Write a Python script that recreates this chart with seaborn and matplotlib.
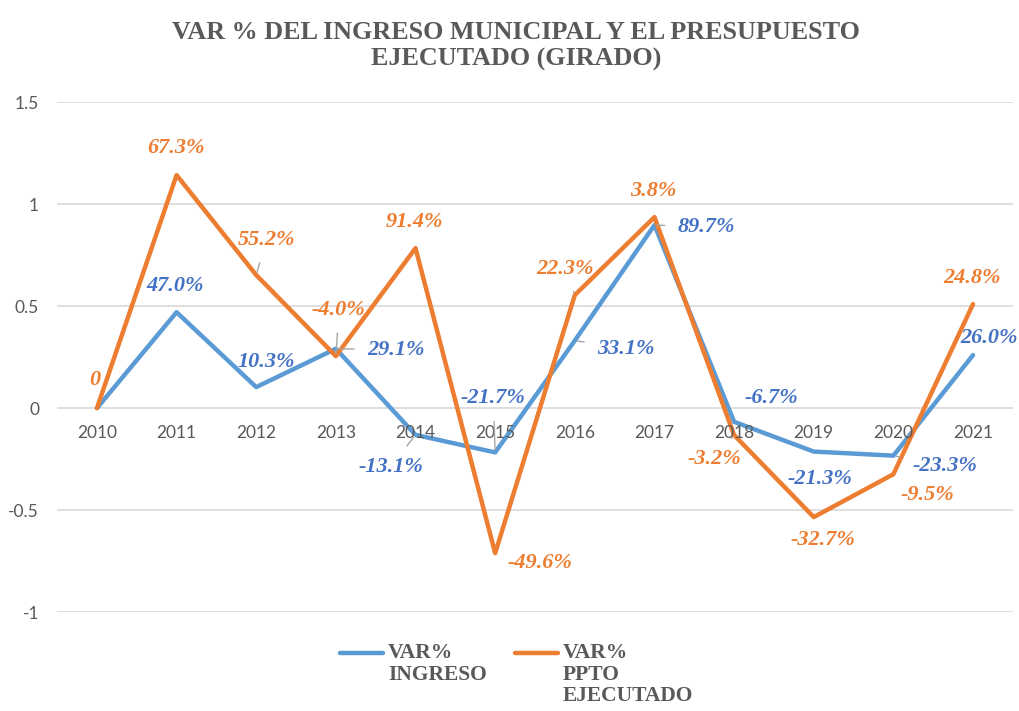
"""Line chart: VAR % del ingreso municipal y el presupuesto ejecutado."""

import matplotlib
matplotlib.use("Agg")
import matplotlib.pyplot as plt
import pandas as pd
import seaborn as sns
from matplotlib.lines import Line2D

# --- data -----------------------------------------------------------------
years = ["2010", "2011", "2012", "2013", "2014", "2015",
         "2016", "2017", "2018", "2019", "2020", "2021"]
var_ingreso = [0.0, 0.47, 0.103, 0.291, -0.131, -0.217,
               0.331, 0.897, -0.067, -0.213, -0.233, 0.26]
var_ppto = [0.0, 1.142, 0.652, 0.255, 0.784, -0.711,
            0.554, 0.936, -0.132, -0.534, -0.324, 0.51]
labels_ingreso = [None, "47.0%", "10.3%", "29.1%", "-13.1%", "-21.7%",
                  "33.1%", "89.7%", "-6.7%", "-21.3%", "-23.3%", "26.0%"]
labels_ppto = ["0", "67.3%", "55.2%", "-4.0%", "91.4%", "-49.6%",
               "22.3%", "3.8%", "-3.2%", "-32.7%", "-9.5%", "24.8%"]
series_names = ["VAR%\nINGRESO", "VAR%\nPPTO\nEJECUTADO"]
title = "VAR % DEL INGRESO MUNICIPAL Y EL PRESUPUESTO\nEJECUTADO (GIRADO)"

# label placement (pixel offsets from point) and whether a leader line is drawn
off_ingreso = [None, (-1, 26), (10, 25), (60, -1), (-25, -32), (-2, 54),
               (51, -8), (52, -2), (37, 24), (6, -27), (52, -10), (16, 17)]
lead_ingreso = [False, False, True, True, True, True,
                True, True, False, False, True, False]
off_ppto = [(-2, 28), (-1, 27), (10, 35), (3, 46), (-1, 26), (45, -10),
            (-10, 26), (-1, 26), (-20, -24), (9, -23), (34, -21), (-1, 26)]
lead_ppto = [False, False, True, True, False, False,
             True, False, True, False, False, False]

BLUE = "#5B9BD5"
BLUE_TXT = "#4472C4"
ORANGE = "#ED7D31"
GREY = "#595959"

df = pd.DataFrame({
    "year": years * 2,
    "value": var_ingreso + var_ppto,
    "serie": [series_names[0]] * len(years) + [series_names[1]] * len(years),
})

sns.set_style("white")
plt.rcParams["font.family"] = ["Lato", "DejaVu Sans"]

fig, ax = plt.subplots(figsize=(10.2, 7.11), dpi=100)
fig.subplots_adjust(left=0.056, right=0.993, bottom=0.139, top=0.8565)

sns.lineplot(data=df, x="year", y="value", hue="serie",
             palette=[BLUE, ORANGE], linewidth=3.2, sort=False,
             legend=False, ax=ax)

ax.set_xlim(-0.5, len(years) - 0.5)
ax.set_ylim(-1, 1.5)
ax.set_yticks([-1, -0.5, 0, 0.5, 1, 1.5])
ax.set_yticklabels(["-1", "-0.5", "0", "0.5", "1", "1.5"])
ax.grid(axis="y", color="#d9d9d9", linewidth=1.2)
ax.set_axisbelow(True)
for s in ax.spines.values():
    s.set_visible(False)
ax.set_xlabel("")
ax.set_ylabel("")
ax.tick_params(axis="both", length=0, labelsize=12.5, colors=GREY)
ax.tick_params(axis="y", pad=13)

# x tick labels sit just under the zero line
ax.set_xticks(range(len(years)))
ax.set_xticklabels([])
for i, yr in enumerate(years):
    ax.annotate(yr, (i, 0), xytext=(0, -25), textcoords="offset pixels",
                ha="center", va="center", fontsize=12.5, color=GREY)

lab_font = dict(family="Liberation Serif", weight="bold", style="italic",
                fontsize=16)


def put_labels(vals, labs, offs, leads, color):
    for i, (v, t, o, ld) in enumerate(zip(vals, labs, offs, leads)):
        if t is None:
            continue
        arrow = None
        if ld:
            arrow = dict(arrowstyle="-", color="#a6a6a6", lw=1,
                         shrinkA=7, shrinkB=2)
        ax.annotate(t, (i, v), xytext=o, textcoords="offset pixels",
                    ha="center", va="center", color=color,
                    arrowprops=arrow, **lab_font)


put_labels(var_ingreso, labels_ingreso, off_ingreso, lead_ingreso, BLUE_TXT)
put_labels(var_ppto, labels_ppto, off_ppto, lead_ppto, ORANGE)

fig.text(0.506, 0.935, title, ha="center", va="center", color=GREY,
         family="Liberation Serif", weight="bold", fontsize=18.8,
         linespacing=1.2)

# legend (handles aligned with the first text line, as in the original)
leg_font = dict(family="Liberation Serif", weight="bold", fontsize=15.5,
                color=GREY, linespacing=1.1)
for x0, col, name in [(340, BLUE, series_names[0]), (515, ORANGE, series_names[1])]:
    fy = 1 - 653 / 711
    fig.add_artist(Line2D([x0 / 1020, (x0 + 43) / 1020], [fy, fy],
                          color=col, linewidth=3.2, solid_capstyle="round"))
    fig.text((x0 + 48) / 1020, 1 - 643 / 711, name, ha="left", va="top",
             **leg_font)

fig.savefig("out.png", dpi=100)
